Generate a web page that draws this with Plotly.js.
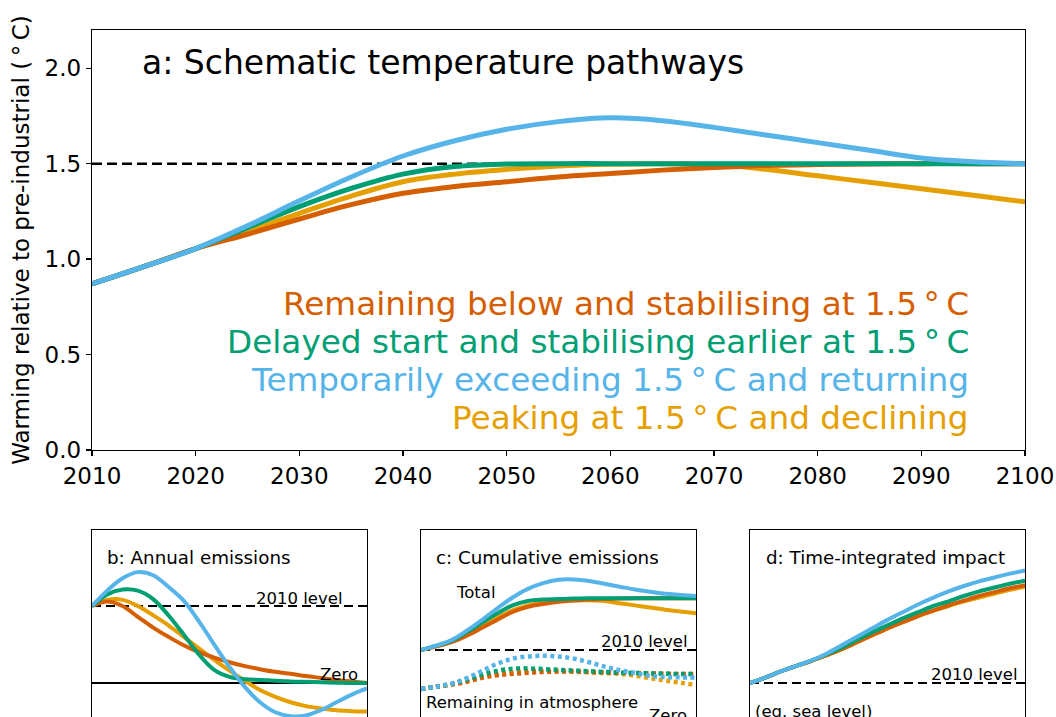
<!DOCTYPE html>
<html>
<head>
<meta charset="utf-8">
<script src="https://cdn.plot.ly/plotly-3.0.1.min.js"></script>
<style>
html,body{margin:0;padding:0;overflow:hidden;background:#fff;}
#chart{width:1056px;height:800px;}
</style>
</head>
<body>
<div id="chart"></div>
<script>
// ---------- DATA ----------
const years = [2010,2015,2020,2025,2030,2035,2040,2045,2050,2055,2060,2065,2070,2075,2080,2085,2090,2095,2100];
const refYears = [2010, 2100];

// Panel a: warming relative to pre-industrial (°C)
const tempBelow    = [0.87,0.96,1.055,1.13,1.21,1.285,1.345,1.38,1.405,1.43,1.448,1.466,1.48,1.49,1.495,1.498,1.5,1.5,1.5];
const tempDelayed  = [0.87,0.96,1.055,1.165,1.275,1.37,1.445,1.485,1.498,1.5,1.5,1.5,1.5,1.5,1.5,1.5,1.5,1.5,1.5];
const tempExceed   = [0.87,0.96,1.055,1.175,1.305,1.43,1.54,1.62,1.68,1.72,1.74,1.725,1.69,1.65,1.61,1.57,1.53,1.51,1.5];
const tempPeak     = [0.87,0.96,1.055,1.145,1.24,1.33,1.405,1.445,1.47,1.488,1.497,1.5,1.495,1.47,1.436,1.402,1.368,1.334,1.30];
const thresholdA   = [1.5, 1.5];

// Panel b: annual emissions (2010 level = 1, zero = 0)
const annBelow   = [1.0,1.06,1.0,0.86,0.72,0.60,0.49,0.40,0.33,0.27,0.22,0.18,0.145,0.12,0.09,0.065,0.04,0.02,0.0];
const annDelayed = [1.0,1.15,1.215,1.2,1.09,0.88,0.63,0.37,0.17,0.08,0.05,0.04,0.03,0.02,0.015,0.01,0.005,0.0,0.0];
const annExceed  = [1.0,1.2,1.36,1.44,1.40,1.25,1.07,0.80,0.50,0.21,-0.05,-0.25,-0.38,-0.43,-0.42,-0.35,-0.25,-0.15,-0.07];
const annPeak    = [1.0,1.08,1.08,1.0,0.88,0.75,0.60,0.45,0.30,0.16,0.03,-0.09,-0.18,-0.25,-0.30,-0.33,-0.355,-0.365,-0.37];
const levelB = [1, 1];
const zeroB  = [0, 0];

// Panel c: cumulative emissions (2010 level = 1, zero = 0)
const cumBelow   = [1.0,1.05,1.11,1.20,1.31,1.42,1.53,1.60,1.64,1.67,1.688,1.70,1.71,1.715,1.72,1.72,1.72,1.72,1.72];
const cumDelayed = [1.0,1.06,1.13,1.25,1.38,1.51,1.62,1.68,1.70,1.71,1.715,1.72,1.72,1.72,1.72,1.72,1.72,1.72,1.72];
const cumExceed  = [1.0,1.06,1.14,1.27,1.42,1.58,1.73,1.85,1.93,1.975,1.98,1.96,1.92,1.88,1.84,1.81,1.78,1.765,1.75];
const cumPeak    = [1.0,1.05,1.12,1.22,1.34,1.45,1.55,1.62,1.66,1.68,1.69,1.69,1.68,1.65,1.62,1.59,1.56,1.535,1.51];
const atmBelow   = [0.46,0.49,0.52,0.56,0.615,0.65,0.67,0.685,0.695,0.70,0.70,0.695,0.69,0.685,0.68,0.675,0.67,0.667,0.667];
const atmDelayed = [0.46,0.49,0.53,0.59,0.66,0.71,0.74,0.745,0.735,0.725,0.715,0.705,0.695,0.685,0.68,0.675,0.67,0.667,0.667];
const atmExceed  = [0.46,0.49,0.53,0.61,0.71,0.81,0.88,0.91,0.92,0.91,0.88,0.83,0.77,0.72,0.68,0.64,0.625,0.62,0.62];
const atmPeak    = [0.46,0.49,0.525,0.57,0.625,0.665,0.69,0.705,0.71,0.71,0.70,0.69,0.68,0.67,0.645,0.61,0.575,0.545,0.515];
const levelC = [1, 1];
const zeroC  = [0, 0];

// Panel d: time-integrated impact (2010 level = 0)
const impBelow   = [0,0.07,0.15,0.22,0.285,0.36,0.44,0.53,0.62,0.71,0.79,0.87,0.94,1.01,1.07,1.13,1.18,1.23,1.27];
const impDelayed = [0,0.07,0.15,0.22,0.29,0.37,0.46,0.56,0.66,0.75,0.84,0.92,1.0,1.06,1.13,1.19,1.24,1.29,1.33];
const impExceed  = [0,0.07,0.15,0.22,0.29,0.38,0.49,0.60,0.71,0.82,0.92,1.02,1.11,1.19,1.26,1.32,1.37,1.42,1.46];
const impPeak    = [0,0.07,0.15,0.22,0.285,0.36,0.44,0.53,0.62,0.71,0.79,0.87,0.94,1.0,1.06,1.11,1.16,1.21,1.25];
const levelD = [0, 0];

const xTicks = [2010,2020,2030,2040,2050,2060,2070,2080,2090,2100];
const yTicks = [0.0,0.5,1.0,1.5,2.0];

const DEG = '1.5\u2009°\u2009C';
const legendLabels = [
  'Remaining below and stabilising at ' + DEG,
  'Delayed start and stabilising earlier at ' + DEG,
  'Temporarily exceeding ' + DEG + ' and returning',
  'Peaking at ' + DEG + ' and declining'
];

// ---------- STYLE ----------
const RED = '#D55E00', GREEN = '#009E73', BLUE = '#56B4E9', ORANGE = '#E69F00';
const W = 1056, H = 800;
const FONT = 'DejaVu Sans, Verdana, sans-serif';
const px = v => v / W;
const py = v => (H - v) / H;

function line(x, y, color, xa, ya, width, dash) {
  return {x: x, y: y, type: 'scatter', mode: 'lines', xaxis: xa, yaxis: ya,
    line: {color: color, width: width, dash: dash || 'solid', shape: 'spline', smoothing: 1},
    hoverinfo: 'skip', showlegend: false};
}

const traces = [
  // panel a
  line(refYears, thresholdA, '#000', 'x', 'y', 2.5, '10px,5px'),
  line(years, tempPeak, ORANGE, 'x', 'y', 5),
  line(years, tempBelow, RED, 'x', 'y', 5),
  line(years, tempDelayed, GREEN, 'x', 'y', 5),
  line(years, tempExceed, BLUE, 'x', 'y', 5),
  // panel b
  line(refYears, levelB, '#000', 'x2', 'y2', 2.2, '9px,5px'),
  line(refYears, zeroB, '#000', 'x2', 'y2', 2.2),
  line(years, annPeak, ORANGE, 'x2', 'y2', 4),
  line(years, annBelow, RED, 'x2', 'y2', 4),
  line(years, annDelayed, GREEN, 'x2', 'y2', 4),
  line(years, annExceed, BLUE, 'x2', 'y2', 4),
  // panel c
  line(refYears, levelC, '#000', 'x3', 'y3', 2.2, '9px,5px'),
  line(refYears, zeroC, '#000', 'x3', 'y3', 2.2),
  line(years, cumPeak, ORANGE, 'x3', 'y3', 4),
  line(years, cumBelow, RED, 'x3', 'y3', 4),
  line(years, cumDelayed, GREEN, 'x3', 'y3', 4),
  line(years, cumExceed, BLUE, 'x3', 'y3', 4),
  line(years, atmPeak, ORANGE, 'x3', 'y3', 4.5, '4px,3.5px'),
  line(years, atmBelow, RED, 'x3', 'y3', 4.5, '4px,3.5px'),
  line(years, atmDelayed, GREEN, 'x3', 'y3', 4.5, '4px,3.5px'),
  line(years, atmExceed, BLUE, 'x3', 'y3', 4.5, '4px,3.5px'),
  // panel d
  line(refYears, levelD, '#000', 'x4', 'y4', 2.2, '9px,5px'),
  line(years, impPeak, ORANGE, 'x4', 'y4', 4),
  line(years, impBelow, RED, 'x4', 'y4', 4),
  line(years, impDelayed, GREEN, 'x4', 'y4', 4),
  line(years, impExceed, BLUE, 'x4', 'y4', 4)
];

function smallAxis(dom, anchor, range) {
  return {domain: dom, anchor: anchor, range: range, showline: true, mirror: true,
    linecolor: '#000', linewidth: 1.2, showgrid: false, zeroline: false,
    showticklabels: false, ticks: '', fixedrange: true};
}

const legendColors = [RED, GREEN, BLUE, ORANGE];
const legendY = [304, 342, 380, 418];

const ann = [];
ann.push({text: 'a: Schematic temperature pathways', xref: 'paper', yref: 'paper',
  x: px(140), y: py(62), xanchor: 'left', yanchor: 'middle', showarrow: false,
  font: {family: FONT, size: 33, color: '#000'}});
legendLabels.forEach((t, i) => ann.push({text: t, xref: 'paper', yref: 'paper',
  x: px(971), y: py(legendY[i]), xanchor: 'right', yanchor: 'middle', showarrow: false,
  font: {family: FONT, size: 32.7, color: legendColors[i]}}));

function small(t, x, y, anchor, size) {
  ann.push({text: t, xref: 'paper', yref: 'paper', x: px(x), y: py(y), xanchor: anchor,
    yanchor: 'middle', showarrow: false, font: {family: FONT, size: size, color: '#000'}});
}
const TS = 18.3, LS = 16.5;
small('b: Annual emissions', 105, 557, 'left', TS);
small('2010 level', 344, 598, 'right', LS);
small('Zero', 360, 674, 'right', LS);
small('c: Cumulative emissions', 434, 557, 'left', TS);
small('Total', 454, 592, 'left', LS);
small('2010 level', 689, 641, 'right', LS);
small('Remaining in atmosphere', 424, 702, 'left', LS);
small('Zero', 689, 715, 'right', LS);
small('d: Time-integrated impact', 764, 557, 'left', TS);
small('2010 level', 1019, 674, 'right', LS);
small('(eg. sea level)', 753, 711, 'left', LS);

const layout = {
  width: W, height: H,
  margin: {l: 0, r: 0, t: 0, b: 0},
  paper_bgcolor: '#fff', plot_bgcolor: '#fff',
  showlegend: false,
  font: {family: FONT, color: '#000'},
  xaxis: {domain: [px(92), px(1025)], anchor: 'y', range: [2010, 2100],
    tickvals: xTicks, ticktext: xTicks.map(String), ticks: 'outside', ticklen: 5, tickwidth: 1.2,
    tickcolor: '#000', showline: true, mirror: true, linecolor: '#000', linewidth: 1.2,
    showgrid: false, zeroline: false, tickfont: {family: FONT, size: 23, color: '#000'}},
  yaxis: {domain: [py(450), py(30)], anchor: 'x', range: [0, 2.2],
    tickvals: yTicks, ticktext: yTicks.map(v => v.toFixed(1)), ticks: 'outside', ticklen: 5, tickwidth: 1.2,
    tickcolor: '#000', showline: true, mirror: true, linecolor: '#000', linewidth: 1.2,
    showgrid: false, zeroline: false, tickfont: {family: FONT, size: 23, color: '#000'},
    title: {text: 'Warming relative to pre-industrial (\u2009°\u2009C)', standoff: 8,
      font: {family: FONT, size: 23, color: '#000'}}},
  xaxis2: smallAxis([px(92), px(367)], 'y2', [2010, 2100]),
  yaxis2: smallAxis([0, py(530)], 'x2', [-1.519, 1.987]),
  xaxis3: smallAxis([px(421), px(696)], 'y3', [2010, 2100]),
  yaxis3: smallAxis([0, py(530)], 'x3', [-1.083, 2.667]),
  xaxis4: smallAxis([px(750), px(1025)], 'y4', [2010, 2100]),
  yaxis4: smallAxis([0, py(530)], 'x4', [-1.519, 1.987]),
  annotations: ann
};

Plotly.newPlot('chart', traces, layout, {displayModeBar: false, staticPlot: true});
</script>
</body>
</html>
